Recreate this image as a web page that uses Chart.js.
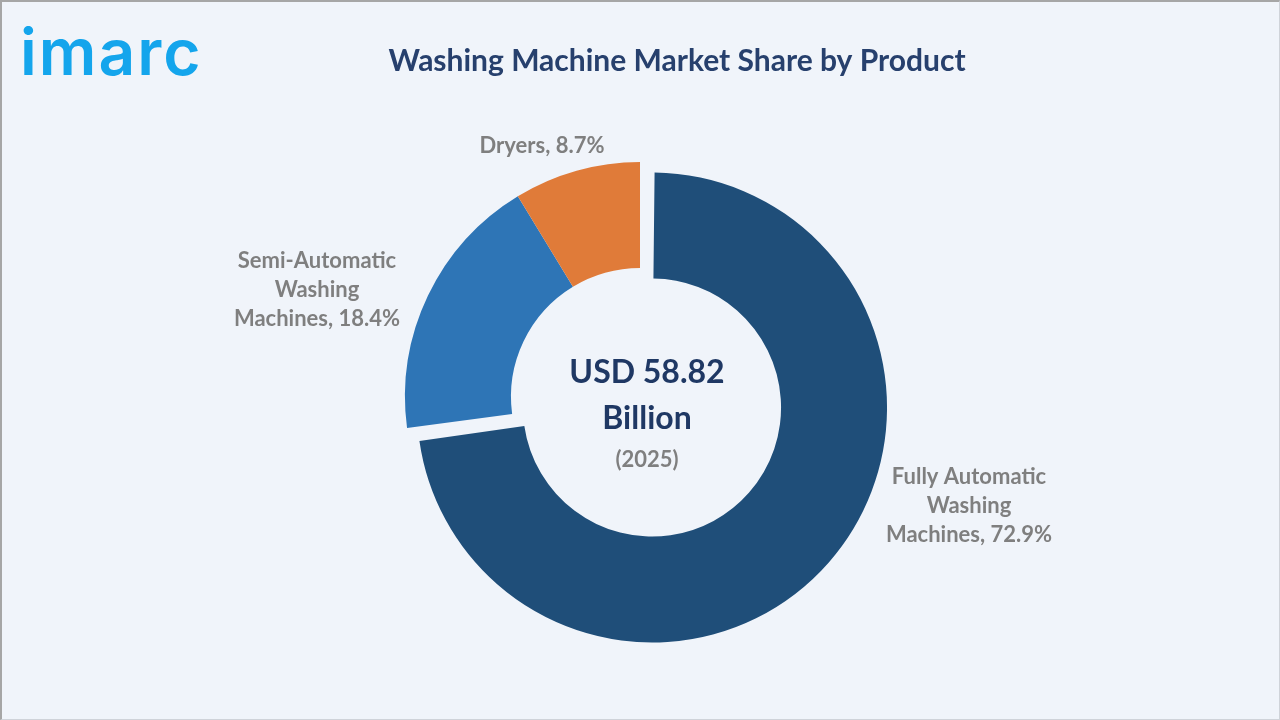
<!DOCTYPE html>
<html>
<head>
<meta charset="utf-8">
<script src="https://cdn.jsdelivr.net/npm/chart.js@4.4.1/dist/chart.umd.min.js"></script>
<style>
    html, body { margin: 0; padding: 0; background: #f0f4fa; }
    #wrap { position: relative; width: 1280px; height: 720px; overflow: hidden; }
    #wrap canvas { position: absolute; left: 0; top: 0; }
    #frame {
        position: absolute; left: 0; top: 0; width: 1280px; height: 720px; box-sizing: border-box;
        border-top: 2px solid #a6a6a6; border-left: 2px solid #a6a6a6;
        border-right: 1px solid #cfd3d9; border-bottom: 1px solid #cfd3d9;
        pointer-events: none;
    }
</style>
</head>
<body>
<div id="wrap">
    <canvas id="chartShare" width="1280" height="720"></canvas>
    <div id="frame"></div>
</div>
<script>
const chartTitle = 'Washing Machine Market Share by Product';
const categories = ['Fully Automatic Washing Machines', 'Semi-Automatic Washing Machines', 'Dryers'];
const shares = [72.9, 18.4, 8.7];
const marketSize = 'USD 58.82';
const marketUnit = 'Billion';
const marketYear = '(2025)';

const sliceColors = ['#1f4e79', '#2e75b6', '#e07b39'];

// chart.js grows the radius of an offset arc wider than 180deg, undo that so it only shifts
const explodeFix = {
    id: 'explodeFix',
    beforeDatasetsDraw(chart) {
        const meta = chart.getDatasetMeta(0);
        this.saved = meta.data.map(arc => {
            const off = (arc.options.offset || 0) / 4;
            const fix = 1 - Math.sin(Math.min(Math.PI, arc.circumference));
            const keep = [arc.outerRadius, arc.innerRadius];
            arc.outerRadius -= off * fix;
            arc.innerRadius -= off * fix;
            return keep;
        });
    },
    afterDatasetsDraw(chart) {
        const meta = chart.getDatasetMeta(0);
        meta.data.forEach((arc, i) => {
            arc.outerRadius = this.saved[i][0];
            arc.innerRadius = this.saved[i][1];
        });
    }
};

function wrapText(ctx, text, maxWidth) {
    const words = text.split(' ');
    const lines = [];
    let line = '';
    words.forEach(w => {
        const test = line ? line + ' ' + w : w;
        if (line && ctx.measureText(test).width > maxWidth) {
            lines.push(line);
            line = w;
        } else {
            line = test;
        }
    });
    if (line) lines.push(line);
    return lines;
}

const textLayer = {
    id: 'textLayer',
    afterDraw(chart, args, opts) {
        const ctx = chart.ctx;
        const arc = chart.getDatasetMeta(0).data[0];
        const cx = arc.x, cy = arc.y;
        ctx.save();
        ctx.textBaseline = 'alphabetic';

        // logo
        ctx.fillStyle = '#14a5ec';
        ctx.font = '600 64px Inter';
        ctx.textAlign = 'left';
        ctx.letterSpacing = '2px';
        ctx.fillText('imarc', 20, 75);
        ctx.letterSpacing = '0px';

        // title
        ctx.fillStyle = '#27406d';
        ctx.font = 'bold 30px Lato';
        ctx.textAlign = 'center';
        ctx.fillText(chartTitle, 677, 71);

        // centre of the ring
        ctx.fillStyle = '#1f3864';
        ctx.font = 'bold 32px Lato';
        ctx.fillText(marketSize, cx + 7, cy - 14);
        ctx.fillText(marketUnit, cx + 7, cy + 32);
        ctx.fillStyle = '#7f7f7f';
        ctx.font = 'bold 22px Lato';
        ctx.fillText(marketYear, cx + 7, cy + 70);

        // slice labels
        ctx.font = 'bold 22px Lato';
        ctx.fillStyle = '#7f7f7f';
        const labels = chart.data.labels;
        const values = chart.data.datasets[0].data;
        opts.anchors.forEach((a, i) => {
            const lines = wrapText(ctx, `${labels[i]}, ${values[i]}%`, 170);
            lines.forEach((ln, k) => ctx.fillText(ln, cx + a[0], cy + a[1] + k * 29));
        });
        ctx.restore();
    }
};

new Chart(document.getElementById('chartShare').getContext('2d'), {
    type: 'doughnut',
    data: {
        labels: categories,
        datasets: [{
            data: shares,
            backgroundColor: sliceColors,
            borderWidth: 0,
            offset: [64, 0, 0]
        }]
    },
    options: {
        responsive: false,
        animation: false,
        radius: 235,
        cutout: '54.9%',
        layout: {
            padding: { top: 150, bottom: 76, left: 100, right: 100 }
        },
        plugins: {
            legend: { display: false },
            tooltip: { enabled: false },
            textLayer: {
                anchors: [[329, 87], [-323, -129], [-98, -244]]
            }
        }
    },
    plugins: [explodeFix, textLayer]
});
</script>
</body>
</html>
